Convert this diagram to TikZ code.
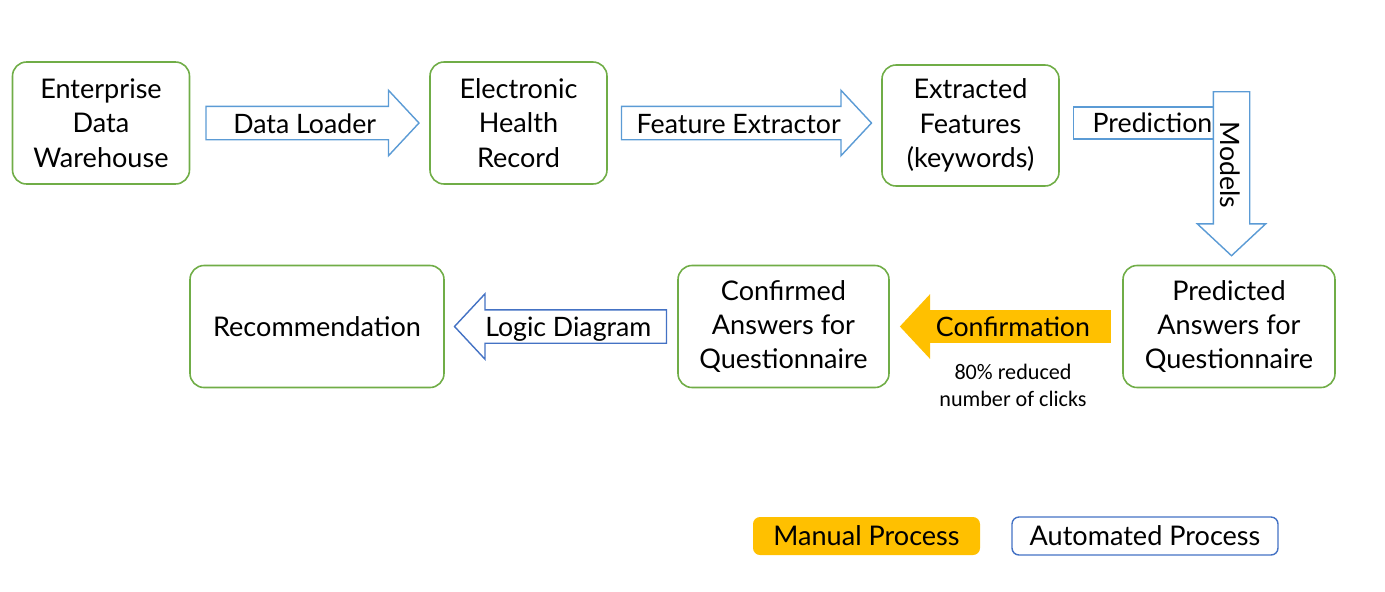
\documentclass[tikz,border=0pt]{standalone}
\usepackage{fontspec}
\setmainfont{Lato}
\newfontfamily\notefont{Carlito}
\usetikzlibrary{shapes.arrows}
\definecolor{boxgreen}{HTML}{70AD47}
\definecolor{autoblue}{HTML}{5B9BD5}
\definecolor{darkblue}{HTML}{4472C4}
\definecolor{manualgold}{HTML}{FFC000}

\begin{document}
\begin{tikzpicture}[
    stage/.style={
        rectangle, draw=boxgreen, line width=0.9pt, rounded corners=8pt,
        minimum height=2.44cm, inner sep=0pt,
        align=center, font=\fontsize{15.4}{19.6}\selectfont
    },
    blockarrow/.style={
        single arrow, single arrow head extend=0.32cm, single arrow tip angle=94,
        inner xsep=0pt, inner ysep=0pt, text height=0.52cm, text depth=0.12cm,
        font=\fontsize{15.2}{17}\selectfont, anchor=tail
    },
    autoarrow/.style={blockarrow, draw=autoblue, fill=white, line width=0.8pt},
    manualarrow/.style={blockarrow, fill=manualgold},
    keybox/.style={
        rectangle, rounded corners=4pt, minimum height=0.76cm,
        font=\fontsize{15.4}{17}\selectfont
    }
]
\useasboundingbox (0,0) rectangle (27.7,-11.82);

\node[stage, minimum width=3.54cm] (edw) at (2.02,-2.46) {Enterprise\\Data\\Warehouse};
\node[stage, minimum width=3.54cm] (ehr) at (10.37,-2.46) {Electronic\\Health\\Record};
\node[stage, minimum width=3.54cm, minimum height=2.42cm] (feat) at (19.41,-2.51) {Extracted\\Features\\(keywords)};
\node[stage, minimum width=4.24cm] (pred) at (24.58,-6.53) {Predicted\\Answers for\\Questionnaire};
\node[stage, minimum width=4.22cm] (conf) at (15.67,-6.53) {Confirmed\\Answers for\\Questionnaire};
\node[stage, minimum width=5.08cm] (rec) at (6.34,-6.53) {Recommendation};

\node[autoarrow, minimum height=4.26cm] (loader) at ([xshift=0.3cm]edw.east) {Data Loader};
\node[autoarrow, minimum height=5.0cm] (extractor) at ([xshift=0.26cm]ehr.east |- edw.east) {Feature Extractor};
\node[rectangle, draw=autoblue, line width=0.8pt, minimum width=3.16cm, minimum height=0.64cm,
    inner sep=0pt, font=\fontsize{15.2}{17}\selectfont, anchor=west] (prediction)
    at ([xshift=0.26cm]feat.east |- edw.east) {Prediction};
\node[autoarrow, rotate=-90, minimum height=3.28cm, text height=0.58cm] (models) at (24.63,-1.82) {Models};
\node[manualarrow, shape border rotate=180, minimum height=4.22cm] (confirm) at ([xshift=-0.22cm]pred.west) {Confirmation};
\node[autoarrow, draw=darkblue, shape border rotate=180, minimum height=4.24cm] (logic) at ([xshift=-0.2cm]conf.west) {Logic Diagram};
\node[align=center, font=\notefont\fontsize{12.6}{15.3}\selectfont] (clicks) at (20.26,-7.7) {80\% reduced\\number of clicks};

\node[keybox, fill=manualgold, minimum width=4.54cm] (manual) at (17.33,-10.72) {Manual Process};
\node[keybox, draw=darkblue, line width=0.8pt, minimum width=5.32cm] (automated) at (22.90,-10.72) {Automated Process};
\end{tikzpicture}
\end{document}
